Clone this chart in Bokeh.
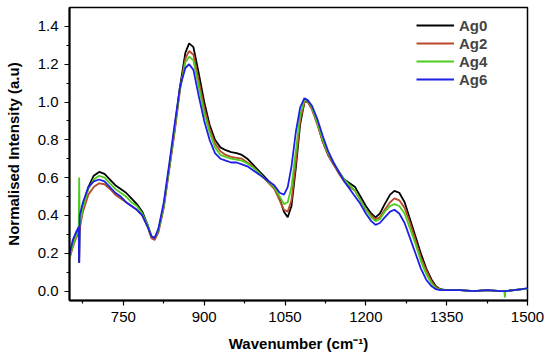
from bokeh.plotting import figure
from bokeh.models import FixedTicker, Range1d, Legend, LegendItem
from bokeh.embed import file_html
from bokeh.resources import INLINE

wavenumber = [650, 656, 662, 667, 668, 669, 675, 685, 695, 705, 715, 725, 735, 745, 755, 765, 775, 785, 795, 802,
              808, 815, 825, 835, 845, 855, 865, 872, 880, 890, 900, 910, 920, 930, 940, 950, 960, 970, 980, 990,
              1000, 1010, 1020, 1030, 1040, 1048, 1055, 1062, 1070, 1078, 1086, 1092, 1100, 1110, 1120, 1130, 1140,
              1150, 1160, 1170, 1180, 1190, 1200, 1210, 1218, 1226, 1235, 1245, 1253, 1262, 1272, 1282, 1292, 1302,
              1312, 1322, 1330, 1338, 1350, 1375, 1400, 1425, 1450, 1457, 1458, 1459, 1475, 1490, 1500]

ag0 = [0.20, 0.25, 0.30, 0.33, 0.15, 0.36, 0.45, 0.55, 0.61, 0.63, 0.62, 0.59, 0.56, 0.54, 0.52, 0.49, 0.46, 0.42, 0.35, 0.29,
       0.28, 0.32, 0.45, 0.65, 0.85, 1.08, 1.26, 1.31, 1.29, 1.15, 1.00, 0.88, 0.80, 0.76, 0.745, 0.735, 0.73, 0.72, 0.70, 0.67,
       0.64, 0.61, 0.58, 0.55, 0.49, 0.42, 0.39, 0.45, 0.65, 0.88, 1.00, 1.005, 0.97, 0.89, 0.79, 0.72, 0.67,
       0.63, 0.59, 0.57, 0.55, 0.50, 0.45, 0.41, 0.39, 0.41, 0.46, 0.51, 0.53, 0.52, 0.47, 0.38, 0.29, 0.20,
       0.12, 0.06, 0.025, 0.01, 0.005, 0.005, 0.0, 0.005, 0.0, 0.0, 0.0, 0.0, 0.005, 0.01, 0.01]

ag2 = [0.17, 0.23, 0.28, 0.31, 0.31, 0.33, 0.42, 0.51, 0.55, 0.57, 0.565, 0.54, 0.51, 0.49, 0.47, 0.45, 0.43, 0.40, 0.34, 0.28,
       0.27, 0.31, 0.44, 0.64, 0.84, 1.06, 1.23, 1.27, 1.25, 1.11, 0.97, 0.86, 0.78, 0.74, 0.72, 0.71, 0.705, 0.70, 0.68, 0.66,
       0.63, 0.60, 0.57, 0.54, 0.48, 0.43, 0.42, 0.48, 0.68, 0.90, 1.00, 1.00, 0.96, 0.88, 0.79, 0.72, 0.67,
       0.62, 0.58, 0.55, 0.53, 0.48, 0.43, 0.40, 0.38, 0.39, 0.43, 0.47, 0.49, 0.48, 0.44, 0.36, 0.27, 0.18,
       0.11, 0.05, 0.02, 0.008, 0.005, 0.005, 0.0, 0.005, 0.0, 0.0, 0.0, 0.0, 0.005, 0.01, 0.01]

ag4 = [0.18, 0.24, 0.29, 0.32, 0.60, 0.35, 0.44, 0.54, 0.59, 0.61, 0.60, 0.57, 0.54, 0.52, 0.50, 0.47, 0.45, 0.41, 0.35, 0.29,
       0.28, 0.32, 0.45, 0.65, 0.86, 1.07, 1.21, 1.24, 1.22, 1.08, 0.94, 0.84, 0.76, 0.72, 0.71, 0.70, 0.695, 0.69, 0.675, 0.655,
       0.63, 0.60, 0.575, 0.55, 0.50, 0.46, 0.47, 0.55, 0.74, 0.93, 1.01, 1.01, 0.97, 0.89, 0.80, 0.73, 0.68,
       0.63, 0.59, 0.56, 0.53, 0.48, 0.43, 0.39, 0.37, 0.38, 0.42, 0.45, 0.46, 0.45, 0.41, 0.33, 0.25, 0.16,
       0.09, 0.04, 0.015, 0.008, 0.005, 0.005, 0.0, 0.005, 0.0, 0.0, -0.035, 0.0, 0.005, 0.01, 0.01]

ag6 = [0.19, 0.27, 0.31, 0.34, 0.15, 0.40, 0.47, 0.55, 0.58, 0.59, 0.58, 0.55, 0.52, 0.50, 0.47, 0.45, 0.43, 0.40, 0.34, 0.29,
       0.28, 0.33, 0.47, 0.67, 0.88, 1.08, 1.18, 1.20, 1.17, 1.03, 0.90, 0.80, 0.73, 0.70, 0.69, 0.68, 0.68, 0.67, 0.66, 0.64,
       0.62, 0.60, 0.58, 0.56, 0.52, 0.51, 0.55, 0.66, 0.84, 0.97, 1.02, 1.01, 0.98, 0.91, 0.82, 0.74, 0.68,
       0.63, 0.58, 0.54, 0.50, 0.46, 0.41, 0.37, 0.35, 0.36, 0.39, 0.42, 0.43, 0.41, 0.36, 0.28, 0.20, 0.12,
       0.06, 0.025, 0.01, 0.005, 0.005, 0.005, 0.0, 0.005, 0.0, 0.0, 0.0, 0.0, 0.005, 0.01, 0.015]

series_names = ["Ag0", "Ag2", "Ag4", "Ag6"]
series_colors = ["#000000", "#b84a2a", "#4ccc1c", "#1f1fe6"]

x_ticks = [750, 900, 1050, 1200, 1350, 1500]
x_minor = [675, 825, 975, 1125, 1275, 1425]
y_ticks = [0.0, 0.2, 0.4, 0.6, 0.8, 1.0, 1.2, 1.4]
y_tick_labels = ["0.0", "0.2", "0.4", "0.6", "0.8", "1.0", "1.2", "1.4"]
y_minor = [0.1, 0.3, 0.5, 0.7, 0.9, 1.1, 1.3]

FONT = "Liberation Sans"

p = figure(frame_width=458, frame_height=293, output_backend="svg", toolbar_location=None,
           x_range=Range1d(650, 1500), y_range=Range1d(-0.05, 1.5),
           min_border_left=69, min_border_right=18, min_border_top=7, min_border_bottom=52,
           background_fill_color="white", border_fill_color="white")

p.grid.visible = False
p.outline_line_color = "black"
p.outline_line_width = 1.5

items = []
for name, ys, col in zip(series_names, [ag0, ag2, ag4, ag6], series_colors):
    r = p.line(wavenumber, ys, line_color=col, line_width=1.8)
    items.append(LegendItem(label=name, renderers=[r]))

p.xaxis.ticker = FixedTicker(ticks=x_ticks, minor_ticks=x_minor)
p.yaxis.ticker = FixedTicker(ticks=y_ticks, minor_ticks=y_minor)
p.yaxis.major_label_overrides = {t: l for t, l in zip(y_ticks, y_tick_labels)}

for ax in (p.xaxis[0], p.yaxis[0]):
    ax.axis_line_width = 2
    ax.axis_line_color = "black"
    ax.major_tick_line_color = "black"
    ax.minor_tick_line_color = "black"
    ax.major_tick_out = 5
    ax.major_tick_in = 0
    ax.minor_tick_out = 3
    ax.minor_tick_in = 0
    ax.major_tick_line_width = 1.2
    ax.minor_tick_line_width = 1.2
    ax.major_label_text_font = FONT
    ax.major_label_text_font_size = "15px"
    ax.major_label_text_color = "black"
    ax.axis_label_text_font = FONT
    ax.axis_label_text_font_size = "15px"
    ax.axis_label_text_font_style = "bold"
    ax.axis_label_text_color = "black"

p.xaxis.axis_label = "Wavenumber (cm\u207b\u00b9)"
p.yaxis.axis_label = "Normalised Intensity (a.u)"
p.xaxis.major_label_standoff = 6
p.yaxis.major_label_standoff = 6
p.xaxis.axis_label_standoff = 10
p.yaxis.axis_label_standoff = 13

legend = Legend(items=items, location=(347, 212), border_line_color=None,
                background_fill_alpha=0, label_text_font=FONT, label_text_font_size="15px",
                label_text_font_style="bold", glyph_width=38, glyph_height=18, label_height=18,
                spacing=0, padding=4, label_standoff=5, margin=0)
p.add_layout(legend)

open("out.html", "w").write(file_html(p, INLINE))
